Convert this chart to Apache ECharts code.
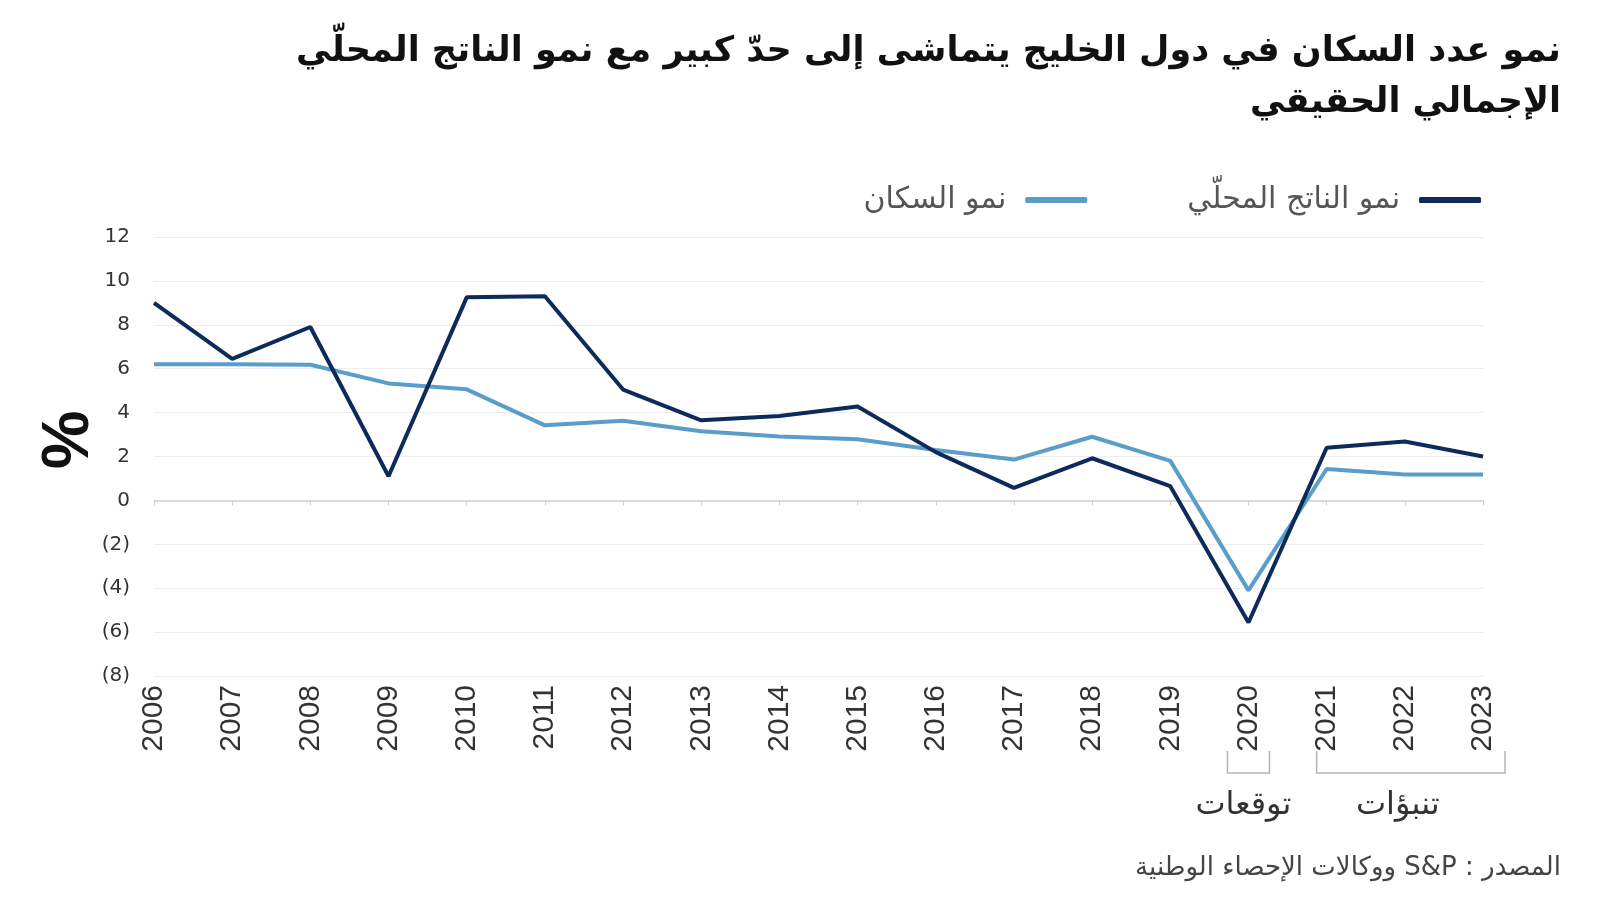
<!DOCTYPE html>
<html>
<head>
<meta charset="utf-8">
<script src="https://cdn.jsdelivr.net/npm/echarts@6/dist/echarts.min.js"></script>
<style>
html,body{margin:0;padding:0;background:#fff;}
#chart{width:1600px;height:900px;}
</style>
</head>
<body>
<div id="chart"></div>
<script>
const titleLines = ['نمو عدد السكان في دول الخليج يتماشى إلى حدّ كبير مع نمو الناتج المحلّي', 'الإجمالي الحقيقي'];
const seriesNames = ['نمو الناتج المحلّي', 'نمو السكان'];
const years = ['2006','2007','2008','2009','2010','2011','2012','2013','2014','2015','2016','2017','2018','2019','2020','2021','2022','2023'];
const gdpGrowth = [9.0, 6.45, 7.9, 1.1, 9.25, 9.3, 5.05, 3.65, 3.85, 4.28, 2.2, 0.57, 1.92, 0.65, -5.56, 2.4, 2.68, 2.0];
const popGrowth = [6.2, 6.2, 6.18, 5.33, 5.06, 3.42, 3.63, 3.15, 2.91, 2.79, 2.3, 1.86, 2.9, 1.8, -4.1, 1.43, 1.18, 1.18];
const estimateLabel = 'توقعات';
const forecastLabel = 'تنبؤات';
const estimateYears = ['2020'];
const forecastYears = ['2021', '2023'];
const sourceText = 'المصدر : S&P ووكالات الإحصاء الوطنية';
const yUnit = '%';

const RLE = '\u202B', PDF = '\u202C';
const arFont = '"DejaVu Sans", sans-serif';
const chart = echarts.init(document.getElementById('chart'), null, {renderer: 'canvas'});

const option = {
  animation: false,
  backgroundColor: '#ffffff',
  legend: {
    data: [seriesNames[1], seriesNames[0]],
    right: 114,
    top: 180,
    align: 'right',
    icon: 'roundRect',
    itemWidth: 62,
    itemHeight: 6,
    itemGap: 100,
    textStyle: {fontFamily: arFont, fontSize: 30, color: '#555', padding: [0, 14, 0, 0]}
  },
  grid: {left: 154, right: 117, top: 237, bottom: 224, containLabel: false},
  xAxis: [
    {
      type: 'category', data: years, boundaryGap: false,
      axisLine: {show: true, onZero: true, lineStyle: {color: '#cfcfcf', width: 1.5}},
      axisTick: {show: true, alignWithLabel: true, length: 5, lineStyle: {color: '#cfcfcf'}},
      axisLabel: {show: false},
      splitLine: {show: false}
    },
    {
      type: 'category', data: years, boundaryGap: false, position: 'bottom',
      axisLine: {show: false, onZero: false},
      axisTick: {show: false},
      axisLabel: {show: true, rotate: 90, margin: 9, fontFamily: '"Liberation Sans", Arial, sans-serif', fontSize: 30, color: '#333'},
      splitLine: {show: false}
    }
  ],
  yAxis: {
    type: 'value', min: -8, max: 12, interval: 2,
    axisLine: {show: false},
    axisTick: {show: false},
    axisLabel: {
      margin: 24, fontFamily: '"DejaVu Sans", sans-serif', fontSize: 20, color: '#333',
      formatter: v => v < 0 ? '(' + (-v) + ')' : String(v)
    },
    splitLine: {show: true, lineStyle: {color: '#ececec', width: 1}}
  },
  series: [
    {
      name: seriesNames[1], type: 'line', data: popGrowth, xAxisIndex: 0,
      showSymbol: false, symbol: 'none',
      lineStyle: {color: '#5a9dc8', width: 4}, itemStyle: {color: '#5a9dc8'}
    },
    {
      name: seriesNames[0], type: 'line', data: gdpGrowth, xAxisIndex: 0,
      showSymbol: false, symbol: 'none',
      lineStyle: {color: '#0c2a5a', width: 4}, itemStyle: {color: '#0c2a5a'}
    }
  ]
};
chart.setOption(option);

function xPix(year) { return chart.convertToPixel({xAxisIndex: 0}, year); }
const bTop = 751, bBot = 773;
const e0 = xPix(estimateYears[0]);
const f0 = xPix(forecastYears[0]), f1 = xPix(forecastYears[1]);
const bracketStyle = {stroke: '#b5b5b5', lineWidth: 1.5, fill: null};
const titleStyle = {fontFamily: arFont, fontWeight: 'bold', fontSize: 35, fill: '#111', align: 'right', verticalAlign: 'middle'};
chart.setOption({
  graphic: [
    {type: 'text', x: 1561, y: 52, style: Object.assign({text: titleLines[0]}, titleStyle)},
    {type: 'text', x: 1561, y: 103, style: Object.assign({text: titleLines[1]}, titleStyle)},
    {type: 'text', x: 70, y: 440, rotation: Math.PI / 2,
     style: {text: yUnit, fontFamily: '"Liberation Sans", Arial, sans-serif', fontWeight: 'bold', fontSize: 66, fill: '#111', align: 'center', verticalAlign: 'middle'}},
    {type: 'polyline', shape: {points: [[e0 - 21, bTop], [e0 - 21, bBot], [e0 + 21, bBot], [e0 + 21, bTop]]}, style: bracketStyle},
    {type: 'polyline', shape: {points: [[f0 - 10, bTop], [f0 - 10, bBot], [f1 + 22, bBot], [f1 + 22, bTop]]}, style: bracketStyle},
    {type: 'text', x: e0 - 5, y: 806,
     style: {text: estimateLabel, fontFamily: arFont, fontSize: 32, fill: '#333', align: 'center', verticalAlign: 'middle'}},
    {type: 'text', x: (f0 + f1) / 2 - 7, y: 806,
     style: {text: forecastLabel, fontFamily: arFont, fontSize: 32, fill: '#333', align: 'center', verticalAlign: 'middle'}},
    {type: 'text', x: 1561, y: 868,
     style: {text: RLE + sourceText + PDF, fontFamily: arFont, fontSize: 26, fill: '#444', align: 'right', verticalAlign: 'middle'}}
  ]
});
</script>
</body>
</html>
